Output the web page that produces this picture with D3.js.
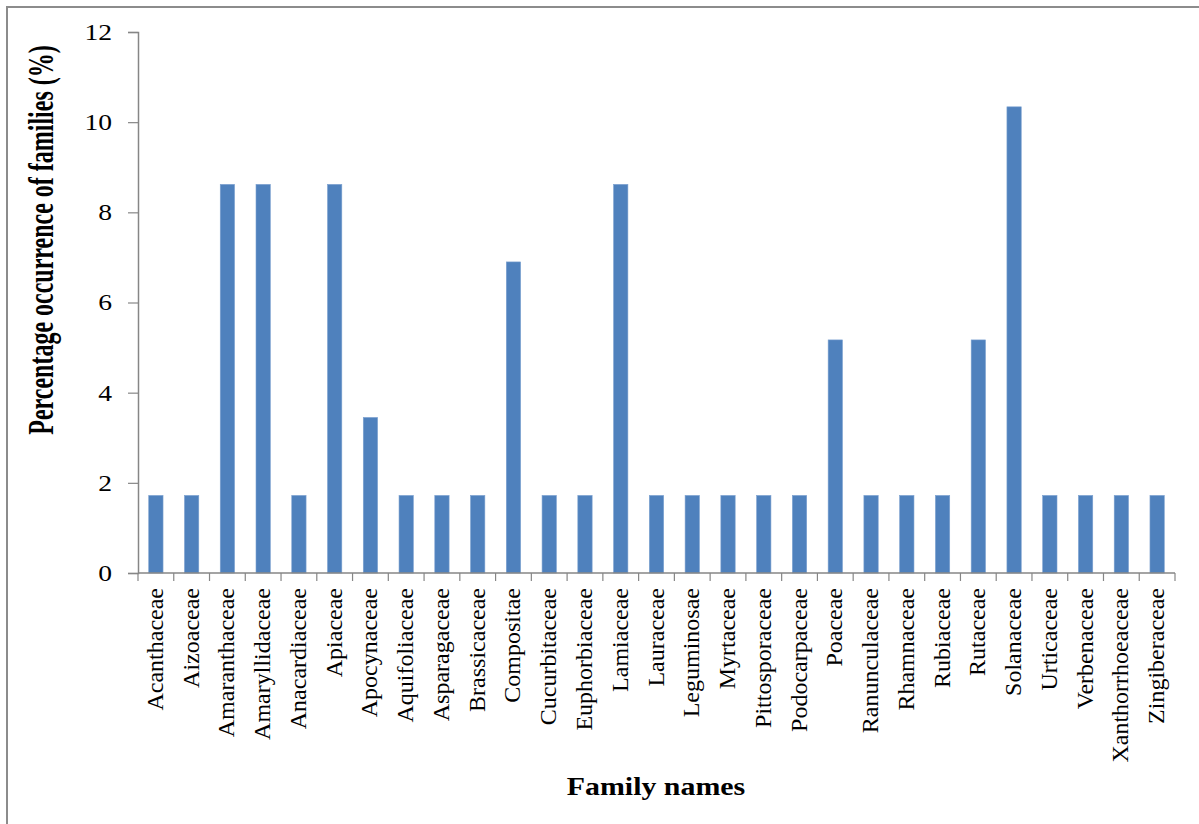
<!DOCTYPE html>
<html>
<head>
<meta charset="utf-8">
<script src="https://cdn.jsdelivr.net/npm/d3@7"></script>
<style>
  body { margin: 0; background: #fff; }
</style>
</head>
<body>
<div id="chart"></div>
<script>
// percentage occurrence of each plant family
const families = ["Acanthaceae", "Aizoaceae", "Amaranthaceae", "Amaryllidaceae", "Anacardiaceae",
    "Apiaceae", "Apocynaceae", "Aquifoliaceae", "Asparagaceae", "Brassicaceae", "Compositae",
    "Cucurbitaceae", "Euphorbiaceae", "Lamiaceae", "Lauraceae", "Leguminosae", "Myrtaceae",
    "Pittosporaceae", "Podocarpaceae", "Poaceae", "Ranunculaceae", "Rhamnaceae", "Rubiaceae",
    "Rutaceae", "Solanaceae", "Urticaceae", "Verbenaceae", "Xanthorrhoeaceae", "Zingiberaceae"]
const percents = [1.72, 1.72, 8.62, 8.62, 1.72, 8.62, 3.45, 1.72, 1.72, 1.72, 6.90,
    1.72, 1.72, 8.62, 1.72, 1.72, 1.72, 1.72, 1.72, 5.17, 1.72, 1.72, 1.72,
    5.17, 10.34, 1.72, 1.72, 1.72, 1.72]
const yTicks = [0, 2, 4, 6, 8, 10, 12]

const width = 1199, height = 824
const margin = {left: 138, right: 24, top: 32, bottom: 251}
const serif = "'Liberation Serif', 'Times New Roman', serif"

const svg = d3.select("#chart").append("svg")
    .attr("width", width)
    .attr("height", height)

// outer frame
svg.append("rect")
    .attr("x", 7).attr("y", 7)
    .attr("width", width + 20).attr("height", height + 20)
    .attr("fill", "none")
    .attr("stroke", "#8c8c8c")
    .attr("stroke-width", 2)

const x = d3.scaleBand()
    .domain(families)
    .range([margin.left, width - margin.right])
    .padding(0)

const y = d3.scaleLinear()
    .domain([0, 12])
    .range([height - margin.bottom, margin.top])

const axisColor = "#868686"

// bars
const barW = x.bandwidth() * 0.4
svg.append("g").selectAll("rect")
    .data(families)
    .enter()
    .append("rect")
    .attr("x", d => x(d) + (x.bandwidth() - barW) / 2)
    .attr("y", (d, i) => y(percents[i]))
    .attr("width", barW)
    .attr("height", (d, i) => y(0) - y(percents[i]))
    .attr("fill", "#4f81bd")
    .attr("stroke", "#7ba0cf")
    .attr("stroke-width", 0.6)

// y axis
const yAxis = svg.append("g")
    .attr("transform", `translate(${margin.left},0)`)
    .call(d3.axisLeft(y).tickValues(yTicks).tickSize(10).tickPadding(0).tickFormat(d3.format("d")))
yAxis.select(".domain").attr("stroke", axisColor).attr("stroke-width", 1.5)
yAxis.selectAll(".tick line").attr("stroke", axisColor).attr("stroke-width", 1.2)
yAxis.selectAll(".tick text")
    .attr("x", null)
    .attr("transform", "translate(-26,0) scale(1.2,1)")
    .style("font-family", serif)
    .style("font-size", "23px")
    .attr("fill", "#000")

// x axis: ticks at band boundaries
const xAxis = svg.append("g")
    .attr("transform", `translate(0,${y(0)})`)
xAxis.append("line")
    .attr("x1", margin.left).attr("x2", width - margin.right)
    .attr("stroke", axisColor).attr("stroke-width", 1.5)
xAxis.selectAll(".xtick")
    .data(families.concat(["end"]))
    .enter()
    .append("line")
    .attr("class", "xtick")
    .attr("x1", (d, i) => i < families.length ? x(d) : x.range()[1])
    .attr("x2", (d, i) => i < families.length ? x(d) : x.range()[1])
    .attr("y1", 0).attr("y2", 8)
    .attr("stroke", axisColor).attr("stroke-width", 1.2)
xAxis.selectAll(".xlabel")
    .data(families)
    .enter()
    .append("text")
    .attr("class", "xlabel")
    .attr("transform", d => `translate(${x(d) + x.bandwidth() / 2 + 7},15) rotate(-90)`)
    .attr("text-anchor", "end")
    .style("font-family", serif)
    .style("font-size", "24px")
    .attr("fill", "#000")
    .text(d => d)

// axis titles
svg.append("text")
    .attr("transform", "translate(53,240) rotate(-90) scale(1,1.5)")
    .attr("text-anchor", "middle")
    .style("font-family", serif)
    .style("font-size", "24px")
    .style("font-weight", "bold")
    .text("Percentage occurrence of families (%)")

svg.append("text")
    .attr("transform", "translate(656,795) scale(1.15,1)")
    .attr("text-anchor", "middle")
    .style("font-family", serif)
    .style("font-size", "26px")
    .style("font-weight", "bold")
    .text("Family names")
</script>
</body>
</html>
